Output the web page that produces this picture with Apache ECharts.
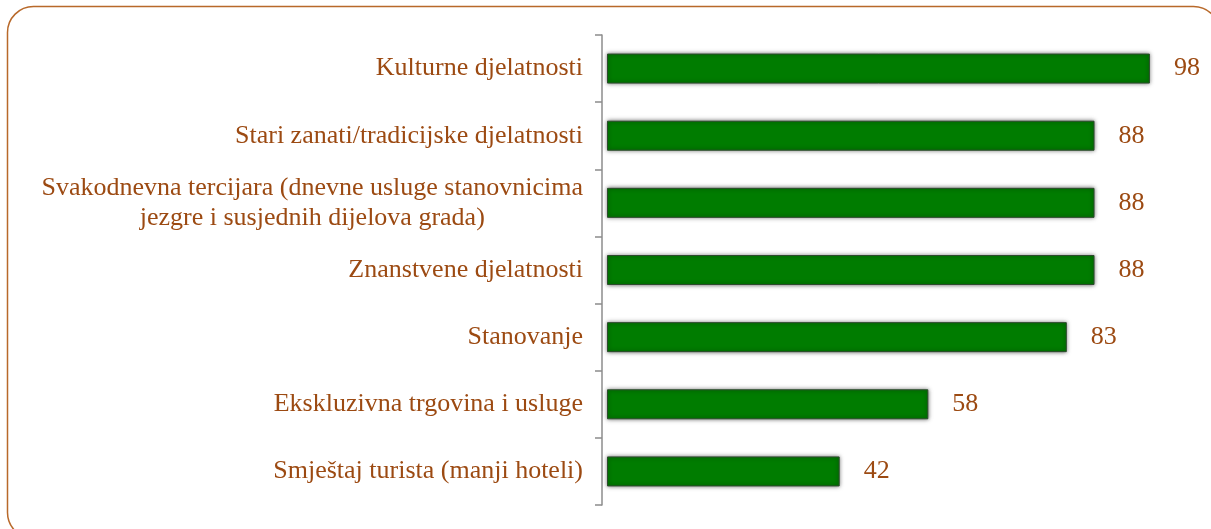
<!DOCTYPE html>
<html>
<head>
<meta charset="utf-8">
<style>
  html, body { margin: 0; padding: 0; background: #ffffff; }
  #chart { width: 1211px; height: 529px; }
</style>
<script src="https://cdn.jsdelivr.net/npm/echarts@6/dist/echarts.min.js"></script>
</head>
<body>
<div id="chart"></div>
<script>
  // Categories, top to bottom
  var categories = [
    'Kulturne djelatnosti',
    'Stari zanati/tradicijske djelatnosti',
    'Svakodnevna tercijara (dnevne usluge stanovnicima\njezgre i susjednih dijelova grada)',
    'Znanstvene djelatnosti',
    'Stanovanje',
    'Ekskluzivna trgovina i usluge',
    'Smještaj turista (manji hoteli)'
  ];
  var values = [98, 88, 88, 88, 83, 58, 42];

  var BROWN = '#9c4a12';
  var FONT = '"Liberation Serif", "Times New Roman", serif';

  var chart = echarts.init(document.getElementById('chart'));

  chart.setOption({
    backgroundColor: '#ffffff',
    animation: false,
    graphic: [{
      type: 'rect',
      shape: { x: 7.5, y: 6.5, width: 1212, height: 532, r: 26 },
      style: { fill: 'none', stroke: '#b8692a', lineWidth: 1.5 },
      silent: true
    }],
    grid: { left: 607, right: 50, top: 35, bottom: 24 },
    xAxis: {
      type: 'value',
      min: 0,
      max: 100,
      show: false
    },
    yAxis: {
      type: 'category',
      inverse: true,
      offset: 5,
      data: categories,
      axisLine: { show: true, onZero: false, lineStyle: { color: '#8c8c8c', width: 1.5 } },
      axisTick: { show: true, length: 7, lineStyle: { color: '#8c8c8c', width: 1.5 } },
      axisLabel: {
        margin: 19,
        color: BROWN,
        fontFamily: FONT,
        fontSize: 26,
        lineHeight: 30,
        formatter: function (v) { return '{c|' + v + '}'; },
        rich: {
          c: { align: 'center', color: BROWN, fontFamily: FONT, fontSize: 26, lineHeight: 30 }
        }
      }
    },
    series: [{
      type: 'bar',
      data: values,
      barWidth: 30,
      itemStyle: {
        color: '#007c00',
        borderColor: '#2d4a2d',
        borderWidth: 1,
        shadowBlur: 4,
        shadowColor: 'rgba(0,0,0,0.55)'
      },
      label: {
        show: true,
        position: 'right',
        distance: 24,
        color: BROWN,
        fontFamily: FONT,
        fontSize: 26
      }
    }]
  });
</script>
</body>
</html>
